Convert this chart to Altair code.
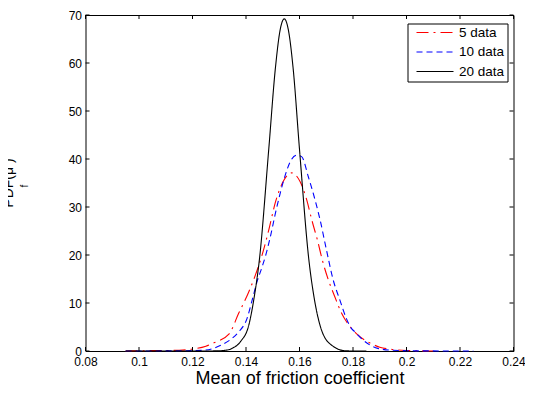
import altair as alt
import pandas as pd

# ---- data ----
series_names = ["5 data", "10 data", "20 data"]

x5 = [0.095, 0.100, 0.110, 0.115, 0.120, 0.125, 0.128, 0.1336, 0.1373, 0.1411, 0.1435,
      0.1458, 0.1485, 0.151, 0.1541, 0.1571, 0.1602, 0.1627, 0.1646, 0.1667, 0.1687,
      0.1708, 0.1732, 0.1757, 0.1790, 0.1819, 0.1862, 0.190, 0.1943, 0.200, 0.210]
y5 = [0.0, 0.05, 0.1, 0.15, 0.4, 1.0, 1.7, 3.5, 7.9, 12.4, 15.8,
      19.6, 25.2, 31.0, 35.5, 37.1, 35.3, 31.5, 27.3, 23.1, 18.6,
      14.8, 11.3, 7.9, 5.0, 3.3, 1.7, 0.8, 0.35, 0.1, 0.0]

x10 = [0.095, 0.110, 0.120, 0.125, 0.1306, 0.1345, 0.1373, 0.1404, 0.1423, 0.1441, 0.146,
       0.1473, 0.1491, 0.151, 0.1528, 0.1547, 0.1565, 0.159, 0.1608, 0.1633, 0.1658,
       0.1677, 0.1701, 0.1726, 0.1751, 0.1775, 0.1794, 0.1807, 0.1837, 0.1893, 0.195,
       0.205, 0.225]
y10 = [0.0, 0.02, 0.08, 0.2, 1.2, 2.5, 4.0, 6.8, 10.6, 14.4, 17.5,
       19.8, 23.8, 28.7, 32.9, 36.7, 39.4, 40.8, 40.5, 36.3, 31.5,
       27.3, 21.0, 14.8, 10.6, 6.8, 4.7, 4.0, 2.3, 0.55, 0.15,
       0.03, 0.0]

x20 = [0.095, 0.125, 0.130, 0.133, 0.135, 0.138, 0.1411, 0.143, 0.145, 0.1485, 0.151,
       0.1528, 0.1543, 0.1558, 0.1576, 0.160, 0.1635, 0.1655, 0.1677, 0.170, 0.1714,
       0.174, 0.1763, 0.180, 0.185]
y20 = [0.0, 0.0, 0.05, 0.2, 0.6, 2.0, 5.5, 11.0, 19.0, 42.0, 59.0,
       67.0, 69.2, 67.0, 59.0, 42.0, 19.0, 11.0, 5.3, 2.3, 1.5,
       0.5, 0.1, 0.0, 0.0]

x_ticks = [0.08, 0.10, 0.12, 0.14, 0.16, 0.18, 0.20, 0.22, 0.24]
y_ticks = [0, 10, 20, 30, 40, 50, 60, 70]

series_colors = ["#ff0000", "#0000ff", "#000000"]
series_dashes = [[12, 5, 2, 5], [6, 4], [1, 0]]

rows = []
for name, xs, ys in [("5 data", x5, y5), ("10 data", x10, y10), ("20 data", x20, y20)]:
    for i, (a, b) in enumerate(zip(xs, ys)):
        rows.append({"series": name, "mu": a, "pdf": b, "order": i})
df = pd.DataFrame(rows)

W, H = 428, 336
FONT = "Liberation Sans"

xscale = alt.Scale(domain=[0.08, 0.24], nice=False, zero=False)
yscale = alt.Scale(domain=[0, 70], nice=False, zero=True)

legend = alt.Legend(
    title=None, orient="none", legendX=322, legendY=8.5,
    strokeColor="black", fillColor="white", padding=3, cornerRadius=0,
    symbolType="stroke", symbolSize=1369, symbolStrokeWidth=1.2,
    symbolOffset=5, labelOffset=4.5, labelFontSize=13.5, labelFont=FONT,
    labelColor="black", clipHeight=12, rowPadding=5.5,
)

lines = alt.Chart(df).mark_line(strokeWidth=1.1, interpolate="monotone").encode(
    x=alt.X("mu:Q", scale=xscale,
            axis=alt.Axis(values=x_ticks, format="~g", title="Mean of friction coefficient",
                          grid=False, ticks=False, domain=False, labelFontSize=12,
                          labelFont=FONT, labelColor="black", labelPadding=5,
                          titleFont=FONT, titleFontSize=18, titleFontWeight="normal",
                          titleColor="black", titleBaseline="alphabetic", titleY=32,
                          labelFlush=False)),
    y=alt.Y("pdf:Q", scale=yscale,
            axis=alt.Axis(values=y_ticks, format="d", title=None, grid=False, ticks=False,
                          domain=False, labelFontSize=12, labelFont=FONT,
                          labelColor="black", labelPadding=4, labelFlush=False)),
    color=alt.Color("series:N", scale=alt.Scale(domain=series_names, range=series_colors),
                    legend=legend),
    strokeDash=alt.StrokeDash("series:N",
                              scale=alt.Scale(domain=series_names, range=series_dashes),
                              legend=legend),
    order="order:Q",
)

xt = pd.DataFrame({"t": x_ticks})
yt = pd.DataFrame({"t": y_ticks})

tick_bottom = alt.Chart(xt).mark_rule(color="black", strokeWidth=1).encode(
    x=alt.X("t:Q", scale=xscale), y=alt.value(H), y2=alt.value(H - 4))
tick_top = alt.Chart(xt).mark_rule(color="black", strokeWidth=1).encode(
    x=alt.X("t:Q", scale=xscale), y=alt.value(0), y2=alt.value(4))
tick_left = alt.Chart(yt).mark_rule(color="black", strokeWidth=1).encode(
    y=alt.Y("t:Q", scale=yscale), x=alt.value(0), x2=alt.value(4))
tick_right = alt.Chart(yt).mark_rule(color="black", strokeWidth=1).encode(
    y=alt.Y("t:Q", scale=yscale), x=alt.value(W), x2=alt.value(W - 4))

ylab = alt.Chart(pd.DataFrame({"s": ["PDF(μ  )"]})).mark_text(
    angle=270, fontSize=14, font=FONT, color="black", baseline="alphabetic", align="center"
).encode(text="s:N", x=alt.value(-72.5), y=alt.value(168))
ysub = alt.Chart(pd.DataFrame({"s": ["f"]})).mark_text(
    angle=270, fontSize=10, font=FONT, color="black", baseline="alphabetic", align="center"
).encode(text="s:N", x=alt.value(-57.5), y=alt.value(171))

chart = alt.layer(lines, tick_bottom, tick_top, tick_left, tick_right, ylab, ysub).properties(
    width=W, height=H,
    autosize=alt.AutoSizeParams(type="none"),
    padding={"left": 77.5, "top": 7, "right": 11.5, "bottom": 34},
    background="white",
).configure_view(stroke="black", strokeWidth=1)

chart.save("out.html", embed_options={"renderer": "svg", "actions": False})
